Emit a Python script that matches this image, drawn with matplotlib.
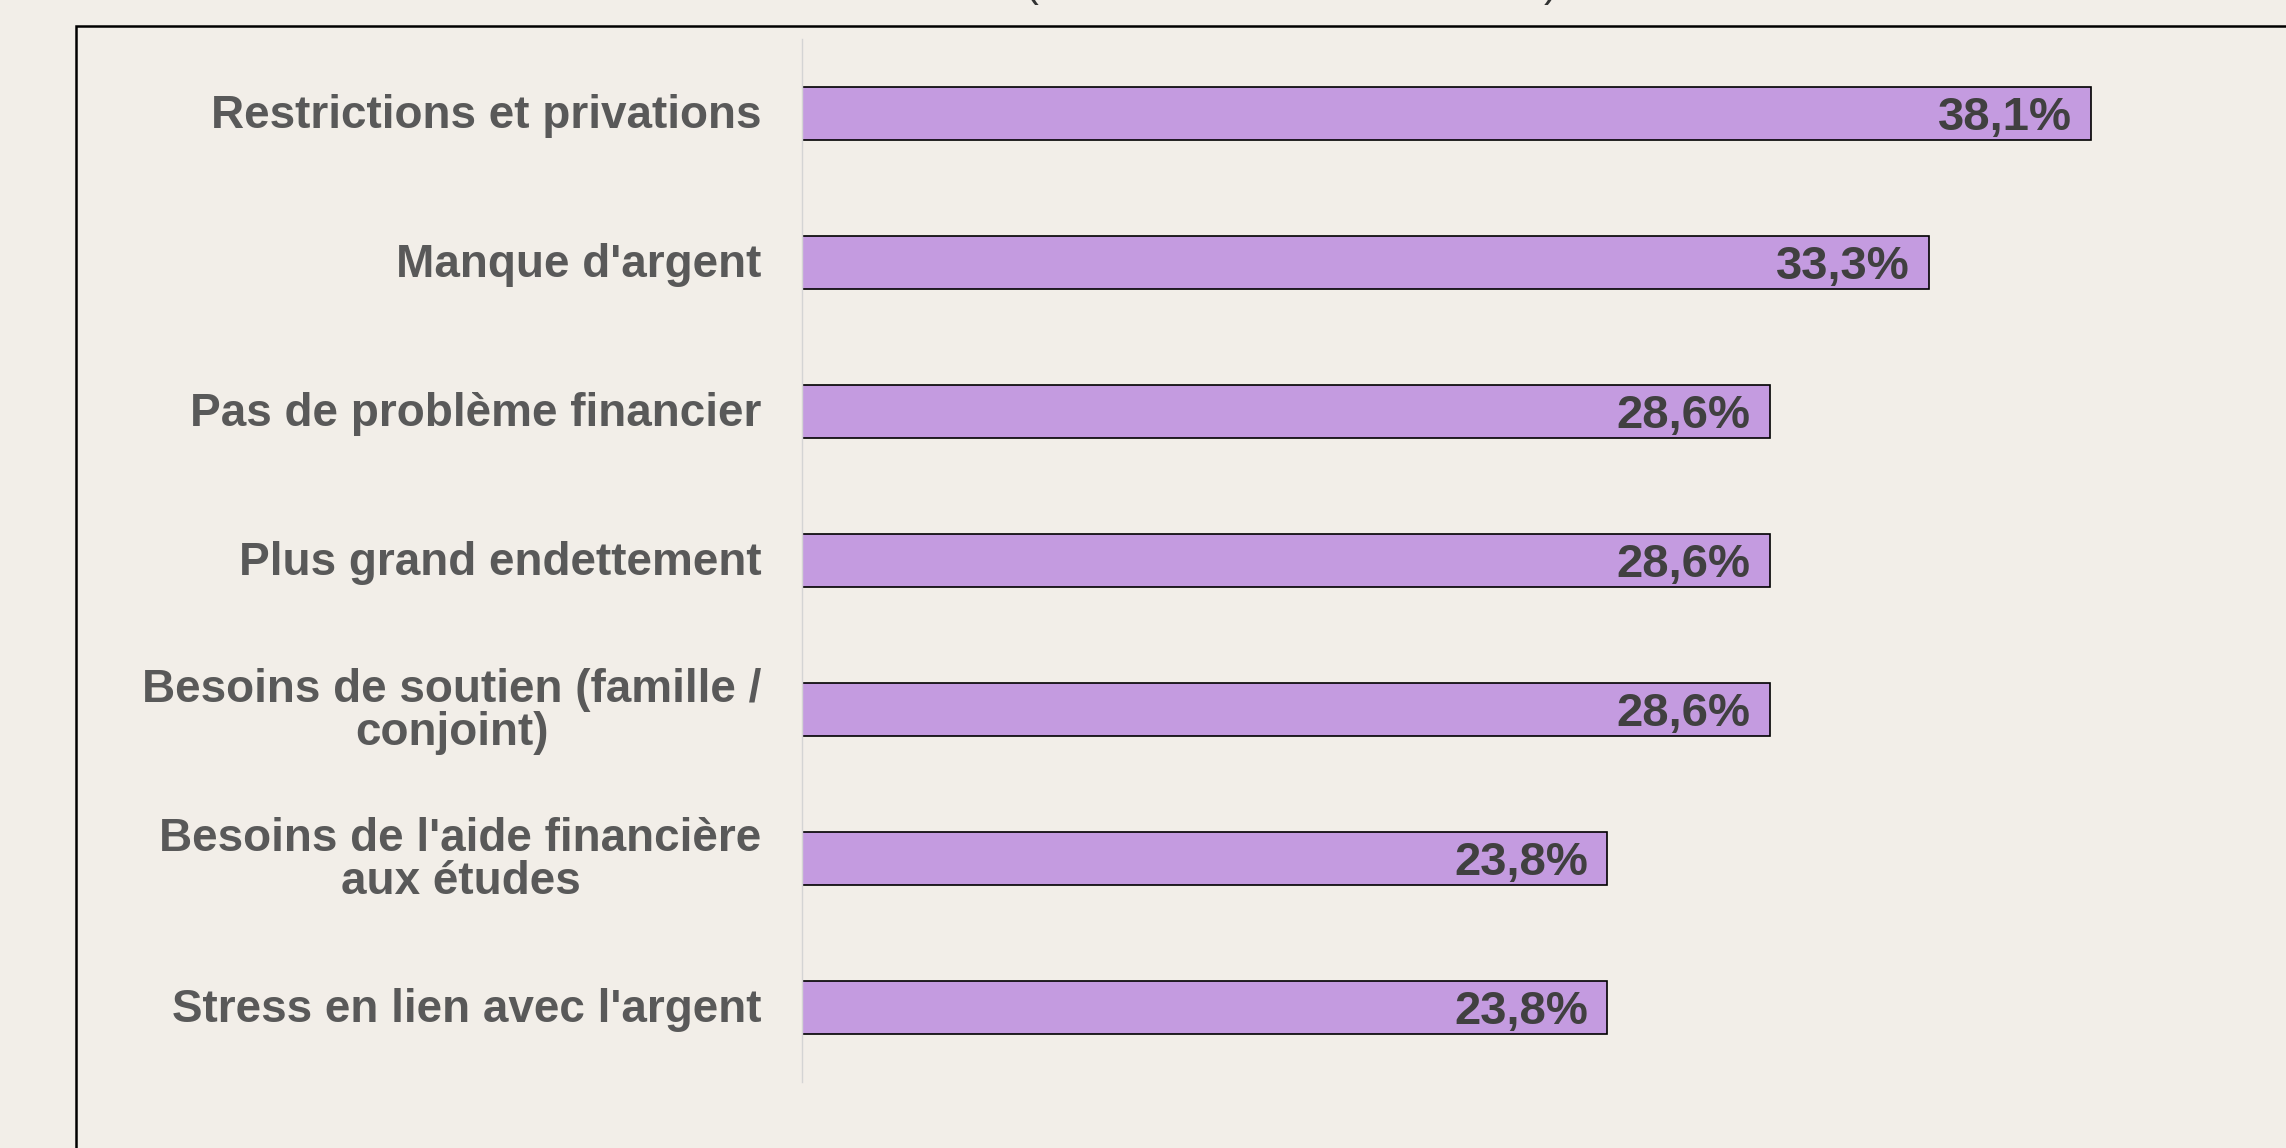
import matplotlib
matplotlib.use("Agg")
import matplotlib.pyplot as plt
import matplotlib.transforms as mtransforms
from matplotlib.patches import Rectangle

categories = [
    "Restrictions et privations",
    "Manque d'argent",
    "Pas de problème financier",
    "Plus grand endettement",
    "Besoins de soutien (famille /\nconjoint)",
    "Besoins de l'aide financière\naux études",
    "Stress en lien avec l'argent",
]
values = [38.1, 33.3, 28.6, 28.6, 28.6, 23.8, 23.8]
value_labels = ["38,1%", "33,3%", "28,6%", "28,6%", "28,6%", "23,8%", "23,8%"]

BG = "#F2EEE8"
BAR = "#C49BE0"
W, H = 2286, 1148
fig = plt.figure(figsize=(W / 100, H / 100), dpi=100, facecolor=BG)
plt.rcParams["font.family"] = ["Liberation Sans", "DejaVu Sans"]

# outer frame (extends beyond the image on the right and bottom)
fig.add_artist(Rectangle((76 / W, -0.2), 1.5, 1 - 26 / H + 0.2, transform=fig.transFigure,
                         fill=False, edgecolor="black", linewidth=1.8, clip_on=False))
# clipped subtitle parentheses at the very top
fig.text(1024 / W, 1 + 4 / H, "(", fontsize=30, ha="left", va="baseline", color="#333333")
fig.text(1558 / W, 1 + 4 / H, ")", fontsize=30, ha="right", va="baseline", color="#333333")

ax = fig.add_axes([802 / W, 1 - 1082 / H, 1 - 802 / W, (1082 - 39) / H])
ax.set_facecolor("none")
y = list(range(len(categories)))
ax.barh(y, values, height=0.353, color=BAR, edgecolor="black", linewidth=1.2)
ax.set_ylim(len(categories) - 0.5, -0.5)
ax.set_xlim(0, 43.85)
ax.set_yticks(y)
ax.set_yticklabels(categories, fontsize=33, fontweight="bold", color="#595959",
                   multialignment="center", linespacing=0.98)
ax.tick_params(axis="y", length=0, pad=29)
shift = mtransforms.ScaledTranslation(0, 2 / 72, fig.dpi_scale_trans)
for lbl in ax.get_yticklabels():
    lbl.set_transform(lbl.get_transform() + shift)
ax.set_xticks([])
for s in ["top", "right", "bottom"]:
    ax.spines[s].set_visible(False)
ax.spines["left"].set_color("#D4D4D4")
ax.spines["left"].set_linewidth(1.0)

for yi, v, lab in zip(y, values, value_labels):
    ax.annotate(lab, xy=(v, yi), xytext=(-14, -3), textcoords="offset points",
                ha="right", va="center", fontsize=34, fontweight="bold", color="#404040")

fig.savefig("out.png", dpi=100, facecolor=BG)
